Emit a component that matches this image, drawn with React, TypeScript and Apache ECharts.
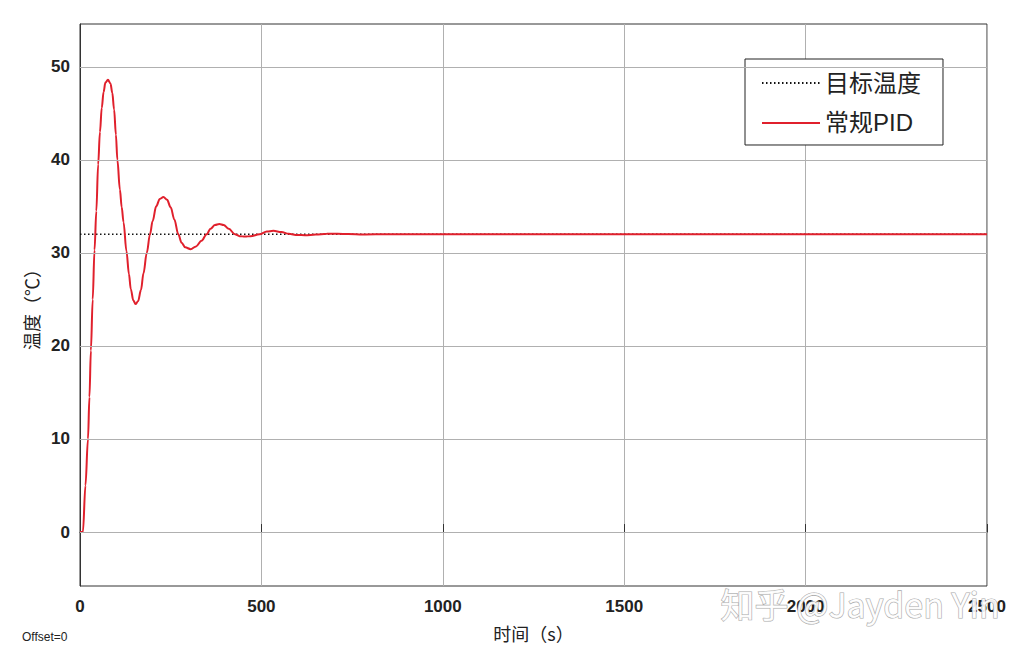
import React, { useEffect, useRef } from "react";
import * as echarts from "echarts";

// time (s) and temperature (°C) of the conventional PID response
const pidTime = [
  0, 8, 15, 22, 26, 30, 35, 40, 45, 50, 55, 60, 65, 70, 77, 84, 89, 94, 99, 103,
  110, 115, 120, 128, 135, 140, 147, 153, 160, 168, 175, 184, 193, 200, 210, 220,
  230, 240, 250, 260, 271, 280, 290, 305, 320, 335, 349, 360, 372, 384, 396, 410,
  427, 440, 455, 470, 495, 515, 533, 555, 575, 600, 620, 650, 680, 710, 740, 780,
  850, 1000, 1500, 2000, 2500,
];
const pidTemp = [
  0, 0, 5, 10, 14.5, 19.5, 25, 30.3, 34.5, 39.5, 43, 45.6, 47.3, 48.3, 48.6, 48.2,
  47.2, 45.4, 42.7, 40, 36.8, 34.9, 33.3, 30.2, 27.7, 26.1, 24.9, 24.5, 24.8, 26,
  27.8, 30, 32, 33.4, 35, 35.8, 36.0, 35.7, 34.9, 33.6, 32, 31.1, 30.6, 30.4, 30.7,
  31.3, 32, 32.6, 33, 33.1, 33, 32.6, 32, 31.8, 31.75, 31.8, 32, 32.3, 32.37, 32.25,
  32.05, 31.92, 31.9, 31.97, 32.05, 32.06, 32.02, 31.98, 32.01, 32, 32, 32, 32,
];
const targetTime = [0, 2500];
const targetTemp = [32, 32];

const yTicks = [0, 10, 20, 30, 40, 50];
const seriesNames = ["目标温度", "常规PID"];

const FONT = "'Liberation Sans', Arial, 'Noto Sans CJK SC', sans-serif";
const CJK = "'Noto Sans CJK SC', 'Liberation Sans', sans-serif";

export default function App() {
  const ref = useRef<HTMLDivElement>(null);
  useEffect(() => {
    if (!ref.current) return;
    const chart = echarts.init(ref.current, undefined, { renderer: "svg" });
    chart.setOption({
      animation: false,
      backgroundColor: "#ffffff",
      grid: {
        left: 80,
        right: 41,
        top: 24,
        bottom: 74,
        show: true,
        borderColor: "#333",
        borderWidth: 1,
        backgroundColor: "transparent",
      },
      legend: {
        data: seriesNames,
        orient: "vertical",
        left: 745,
        top: 59,
        itemWidth: 58,
        itemHeight: 14,
        itemGap: 16,
        padding: [12, 22, 10, 16],
        backgroundColor: "#fff",
        borderColor: "#222",
        borderWidth: 1,
        borderRadius: 0,
        itemStyle: { opacity: 0 },
        textStyle: { fontSize: 24, color: "#222", fontFamily: FONT },
        selectedMode: false,
      },
      xAxis: {
        type: "value",
        min: 0,
        max: 2500,
        interval: 500,
        name: "时间（s）",
        nameLocation: "middle",
        nameGap: 38,
        nameTextStyle: { fontSize: 18, color: "#222", fontFamily: CJK },
        axisLine: { show: true, lineStyle: { color: "#333", width: 1 } },
        axisTick: { show: true, inside: true, length: 8, lineStyle: { color: "#333" } },
        axisLabel: {
          fontSize: 17,
          fontWeight: "bold",
          color: "#222",
          fontFamily: FONT,
          margin: 12,
          formatter: (v: number) => String(v),
        },
        splitLine: { show: true, lineStyle: { color: "#b0b0b0", width: 1 } },
      },
      yAxis: {
        type: "value",
        min: -5.8,
        max: 54.6,
        name: "温度（℃）",
        nameLocation: "middle",
        nameGap: 34,
        nameRotate: 90,
        nameTextStyle: { fontSize: 18, color: "#222", fontFamily: CJK },
        axisLine: { show: true, lineStyle: { color: "#333", width: 1 } },
        axisTick: {
          show: true,
          inside: true,
          length: 9,
          customValues: yTicks,
          lineStyle: { color: "#333" },
        },
        axisLabel: {
          customValues: yTicks,
          fontSize: 17,
          fontWeight: "bold",
          color: "#222",
          fontFamily: FONT,
          margin: 10,
        },
        splitLine: { show: false },
      },
      series: [
        {
          name: "grid",
          type: "line",
          data: [],
          z: 1,
          silent: true,
          markLine: {
            silent: true,
            symbol: ["none", "none"],
            label: { show: false },
            lineStyle: { color: "#b0b0b0", width: 1, type: "solid" },
            emphasis: { disabled: true },
            data: yTicks.map((v) => ({ yAxis: v })),
          },
        },
        {
          name: seriesNames[0],
          type: "line",
          z: 3,
          symbol: "none",
          data: targetTime.map((t, i) => [t, targetTemp[i]]),
          lineStyle: { color: "#111", width: 1.5, type: [1.5, 2.5] },
          itemStyle: { color: "#111" },
        },
        {
          name: seriesNames[1],
          type: "line",
          z: 4,
          symbol: "none",
          smooth: 0.35,
          smoothMonotone: "x",
          data: pidTime.map((t, i) => [t, pidTemp[i]]),
          lineStyle: { color: "#e0202c", width: 2 },
          itemStyle: { color: "#e0202c" },
        },
      ],
      graphic: [
        {
          type: "text",
          left: 22,
          top: 631,
          style: { text: "Offset=0", fontSize: 12, fill: "#222", fontFamily: FONT },
        },
        {
          type: "text",
          left: 720,
          top: 586,
          z: 100,
          style: {
            text: "知乎 @Jayden Yin",
            fontSize: 34,
            fill: "rgba(255,255,255,0.92)",
            stroke: "#aaaaaa",
            lineWidth: 1.2,
            fontFamily: CJK,
          },
        },
      ],
    });
    return () => chart.dispose();
  }, []);
  return (
    <div
      ref={ref}
      style={{ position: "fixed", left: 0, top: 0, width: 1028, height: 660 }}
    />
  );
}
